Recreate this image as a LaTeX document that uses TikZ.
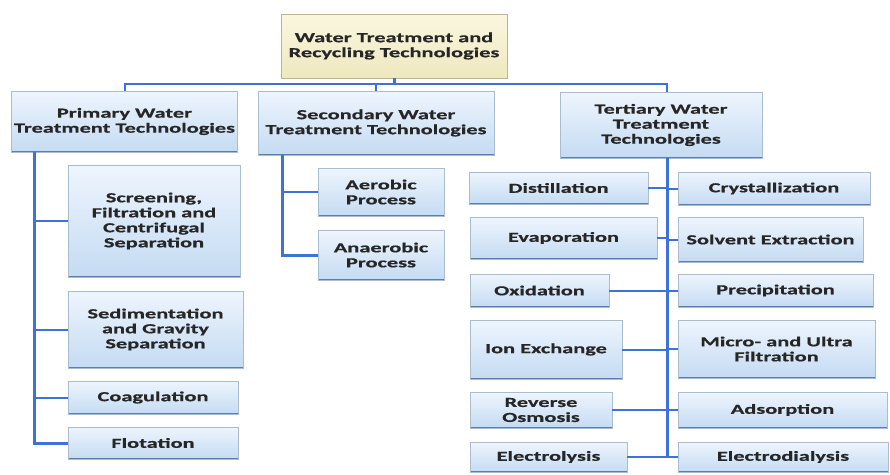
\documentclass[tikz,border=0pt]{standalone}
\usepackage{fontspec}
\setmainfont{Carlito}[FakeStretch=1.62,FakeBold=0.6]
\usepackage{tikz}
\usetikzlibrary{positioning}
\definecolor{boxtop}{HTML}{EEF5FD}
\definecolor{boxbot}{HTML}{C4DBF3}
\definecolor{boxline}{HTML}{A9BCD0}
\definecolor{boxedge}{HTML}{5A7FAF}
\definecolor{roottop}{HTML}{FAF7E0}
\definecolor{rootbot}{HTML}{EEE8BE}
\definecolor{rootline}{HTML}{BDB58F}
\definecolor{linkblue}{HTML}{3F72D8}
\tikzset{techbox/.style={rectangle,draw=boxline,top color=boxtop,bottom color=boxbot,
inner sep=2pt,align=center,text=black!85,font=\bfseries\fontsize{13.8}{15}\selectfont,
path picture={\draw[boxedge,line width=1.6pt] (path picture bounding box.south west) -- (path picture bounding box.south east);}}}
\tikzset{rootbox/.style={techbox,draw=rootline,top color=roottop,bottom color=rootbot,
path picture={}}}
\tikzset{trunk/.style={draw=linkblue,line width=3pt}}
\tikzset{link/.style={draw=linkblue,line width=2pt}}

\begin{document}
\begin{tikzpicture}[x=1pt,y=-1pt]
        \useasboundingbox (0,0) rectangle (890,474);

        \node[rootbox,minimum width=226pt,minimum height=64pt] (root) at (394,46) {Water Treatment and\\Recycling Technologies};

        \node[techbox,minimum width=226pt,minimum height=61pt] (prim) at (124.5,121.5) {Primary Water\\Treatment Technologies};
        \node[techbox,minimum width=236pt,minimum height=64pt] (sec) at (376,123) {Secondary Water\\Treatment Technologies};
        \node[techbox,minimum width=202pt,minimum height=66pt] (ter) at (661,125) {Tertiary Water\\Treatment\\Technologies};

        % primary
        \node[techbox,minimum width=172pt,minimum height=112pt] (screen) at (154,221) {Screening,\\Filtration and\\Centrifugal\\Separation};
        \node[techbox,minimum width=175pt,minimum height=77pt] (sedim) at (155.5,329.5) {Sedimentation\\and Gravity\\Separation};
        \node[techbox,minimum width=170pt,minimum height=33pt] (coag) at (153,397.5) {Coagulation};
        \node[techbox,minimum width=170pt,minimum height=32pt] (flot) at (153,443) {Flotation};

        % secondary
        \node[techbox,minimum width=126pt,minimum height=48pt] (aerob) at (381,192) {Aerobic\\Process};
        \node[techbox,minimum width=126pt,minimum height=50pt] (anaer) at (381,255) {Anaerobic\\Process};

        % tertiary, left column
        \node[techbox,minimum width=179pt,minimum height=32pt] (distil) at (558.5,188) {Distillation};
        \node[techbox,minimum width=187pt,minimum height=42pt] (evap) at (563.5,238) {Evaporation};
        \node[techbox,minimum width=139pt,minimum height=33pt] (oxid) at (539.5,290.5) {Oxidation};
        \node[techbox,minimum width=152pt,minimum height=59pt] (ionex) at (546,349.5) {Ion Exchange};
        \node[techbox,minimum width=142pt,minimum height=36pt] (revos) at (541,410) {Reverse\\Osmosis};
        \node[techbox,minimum width=157pt,minimum height=30pt] (electl) at (548.5,457) {Electrolysis};

        % tertiary, right column
        \node[techbox,minimum width=192pt,minimum height=33pt] (cryst) at (774,188.5) {Crystallization};
        \node[techbox,minimum width=185pt,minimum height=45pt] (solv) at (770.5,239.5) {Solvent Extraction};
        \node[techbox,minimum width=195pt,minimum height=33pt] (precip) at (775.5,290.5) {Precipitation};
        \node[techbox,minimum width=197pt,minimum height=58pt] (micro) at (776.5,349) {Micro-{} and Ultra\\Filtration};
        \node[techbox,minimum width=209pt,minimum height=36pt] (adsorp) at (782.5,410) {Adsorption};
        \node[techbox,minimum width=210pt,minimum height=30pt] (electd) at (783,457) {Electrodialysis};

        % top bus
        \coordinate (bus) at (0,84);
        \draw[trunk] (root.south) -- (root.south |- bus);
        \draw[link] (prim.north) -- (prim.north |- bus) -- ([xshift=6pt]ter.north |- bus) -- ([xshift=6pt]ter.north);
        \draw[link] (sec.north) -- (sec.north |- bus);

        % trunks
        \coordinate (primtrunk) at ([xshift=-90pt]prim.south);
        \coordinate (sectrunk) at ([xshift=-94pt]sec.south);
        \coordinate (tertrunk) at ([xshift=6pt]ter.south);
        \draw[trunk] (primtrunk) |- (flot.west);
        \foreach \b in {screen,sedim,coag}
            \draw[link] (\b.west) -- (\b.west -| primtrunk);
        \draw[trunk] (sectrunk) |- (anaer.west);
        \draw[link] (aerob.west) -- (aerob.west -| sectrunk);
        \draw[trunk] (tertrunk) -- (tertrunk |- electl.east);
        \foreach \b in {distil,evap,oxid,ionex,revos,electl}
            \draw[link] (\b.east) -- (\b.east -| tertrunk);
        \foreach \b in {cryst,solv,precip,micro,adsorp,electd}
            \draw[link] (\b.west) -- (\b.west -| tertrunk);

\end{tikzpicture}
\end{document}
